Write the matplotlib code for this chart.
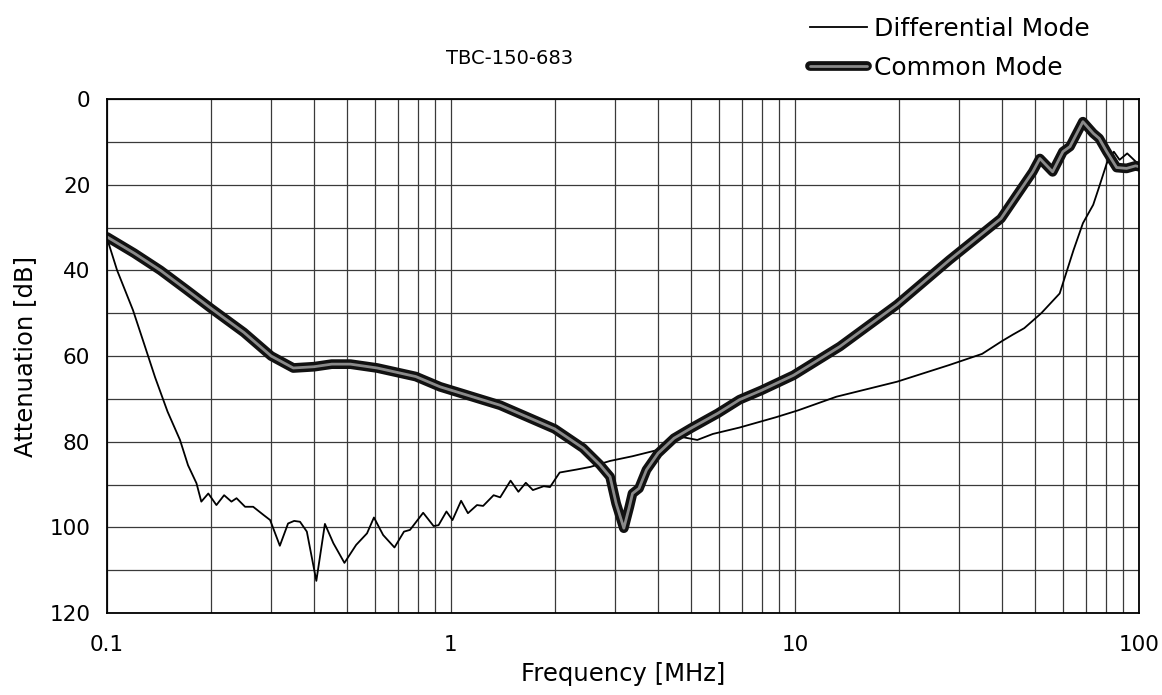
import matplotlib
matplotlib.use("Agg")
import matplotlib.pyplot as plt
from matplotlib.ticker import FixedLocator, NullFormatter, LogLocator

plt.rcParams['font.family'] = ['DejaVu Sans']

title = "TBC-150-683"
x_label = "Frequency [MHz]"
y_label = "Attenuation [dB]"
x_ticks = [0.1, 1, 10, 100]
x_tick_labels = ["0.1", "1", "10", "100"]
y_ticks = [0, 20, 40, 60, 80, 100, 120]
y_tick_labels = ["0", "20", "40", "60", "80", "100", "120"]

dm_freq = [0.100, 0.107, 0.119, 0.128, 0.138, 0.150, 0.163, 0.172, 0.182, 0.188,
           0.197, 0.208, 0.219, 0.230, 0.238, 0.252, 0.266, 0.285, 0.298, 0.318,
           0.336, 0.350, 0.364, 0.381, 0.406, 0.430, 0.455, 0.490, 0.530, 0.570,
           0.597, 0.635, 0.685, 0.730, 0.760, 0.830, 0.890, 0.920, 0.970, 1.01,
           1.07, 1.12, 1.19, 1.24, 1.33, 1.39, 1.49, 1.57, 1.65, 1.73,
           1.86, 1.94, 2.07, 2.32, 2.54, 2.90, 3.37, 3.96, 4.30, 4.53,
           4.75, 5.20, 5.77, 6.90, 8.80, 10.2, 13.2, 19.8, 28.1, 35.0,
           40.0, 43.0, 46.4, 52.0, 58.8, 64.5, 68.7, 73.6, 76.6, 80.6,
           84.5, 87.8, 92.4, 97.8, 100.0]
dm_att = [32.5, 40.0, 49.3, 57.0, 65.0, 73.0, 79.6, 85.5, 89.7, 94.0,
          92.1, 94.8, 92.5, 94.0, 93.2, 95.2, 95.2, 97.1, 98.3, 104.3,
          99.1, 98.5, 98.7, 101.0, 112.5, 99.2, 103.7, 108.3, 104.1, 101.4,
          97.7, 101.8, 104.7, 101.0, 100.6, 96.6, 99.7, 99.5, 96.3, 98.3,
          93.8, 96.7, 94.8, 95.0, 92.5, 93.0, 89.1, 91.7, 89.6, 91.3,
          90.4, 90.6, 87.2, 86.5, 85.9, 84.5, 83.4, 82.0, 80.0, 78.8,
          79.0, 79.6, 78.2, 76.7, 74.3, 72.7, 69.5, 66.0, 62.1, 59.5,
          56.5, 55.0, 53.5, 50.0, 45.4, 35.3, 29.0, 24.7, 20.5, 15.0,
          12.3, 14.2, 12.7, 14.6, 15.0]

cm_freq = [0.100, 0.120, 0.143, 0.170, 0.200, 0.250, 0.300, 0.348, 0.400, 0.450,
           0.510, 0.610, 0.790, 0.930, 1.39, 2.00, 2.42, 2.71, 2.90, 3.02,
           3.18, 3.30, 3.37, 3.52, 3.70, 4.00, 4.45, 5.00, 5.96, 6.90,
           8.00, 9.90, 13.5, 19.8, 28.1, 39.7, 49.1, 51.5, 56.1, 60.1,
           63.0, 68.7, 73.6, 76.6, 80.6, 86.1, 92.0, 97.8, 100.0]
cm_att = [32.2, 36.0, 40.0, 44.5, 48.8, 54.5, 60.0, 62.8, 62.5, 61.9,
          61.9, 62.8, 64.8, 67.2, 71.5, 77.0, 81.5, 85.4, 88.2, 94.4,
          100.2, 95.2, 92.1, 90.9, 86.6, 82.7, 79.2, 76.8, 73.4, 70.2,
          68.0, 64.5, 57.8, 48.0, 37.6, 27.9, 17.0, 13.9, 17.0, 12.3,
          11.1, 5.3, 8.0, 9.2, 12.3, 16.0, 16.2, 15.6, 15.8]

fig = plt.figure(figsize=(11.62, 6.95), dpi=100)
ax = fig.add_axes([107/1162, 1-613/695, (1139-107)/1162, (613-99)/695])

ax.set_xscale('log')
ax.set_xlim(0.1, 100)
ax.set_ylim(120, 0)

ax.xaxis.set_major_locator(FixedLocator(x_ticks))
ax.set_xticklabels(x_tick_labels)
ax.xaxis.set_minor_locator(LogLocator(base=10, subs=range(2, 10), numticks=20))
ax.xaxis.set_minor_formatter(NullFormatter())
ax.yaxis.set_major_locator(FixedLocator(y_ticks))
ax.set_yticklabels(y_tick_labels)
ax.yaxis.set_minor_locator(FixedLocator([10, 30, 50, 70, 90, 110]))

ax.grid(True, which='both', color='#3a3a3a', linewidth=0.9)
ax.set_axisbelow(True)
ax.tick_params(which='both', length=0, labelsize=15.5)
ax.tick_params(axis='y', pad=12)
ax.tick_params(axis='x', pad=16)
for s in ax.spines.values():
    s.set_linewidth(1.3)
    s.set_color('black')

l_dm, = ax.plot(dm_freq, dm_att, color='black', linewidth=1.3)
l_cm1, = ax.plot(cm_freq, cm_att, color='#111111', linewidth=7.0, solid_capstyle='round')
l_cm2, = ax.plot(cm_freq, cm_att, color='#8a8a8a', linewidth=2.0, solid_capstyle='round')

ax.set_xlabel(x_label, fontsize=17.5, labelpad=5)
ax.set_ylabel(y_label, fontsize=17.5, labelpad=9)

fig.text(510/1162, 1-58/695, title, fontsize=14, ha='center', va='center')

leg = fig.legend([l_dm, (l_cm1, l_cm2)], ["Differential Mode", "Common Mode"],
                 loc='upper left', bbox_to_anchor=(810/1162, 1-17/695), frameon=False,
                 fontsize=18, handlelength=2.3, handletextpad=0.25, labelspacing=0.6,
                 borderaxespad=0.0, borderpad=0.0)

fig.savefig("out.png", dpi=100)
